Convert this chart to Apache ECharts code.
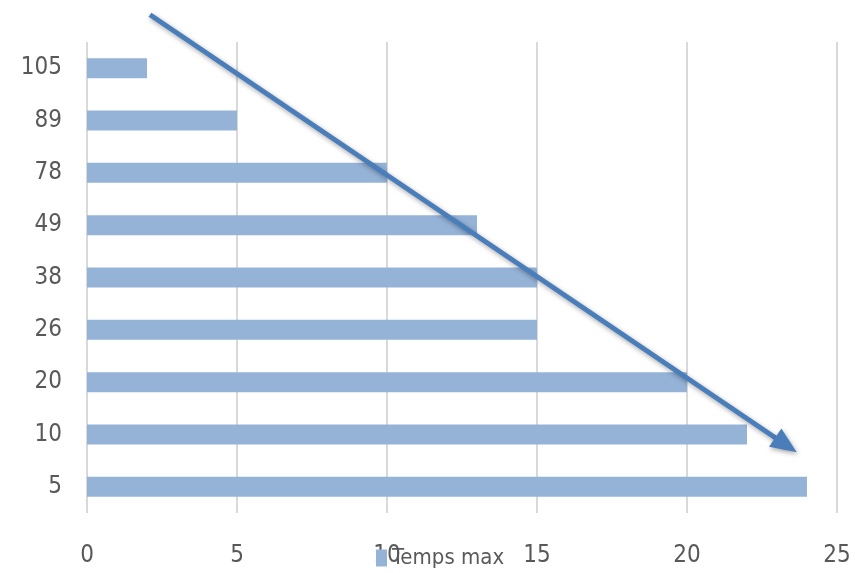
<!DOCTYPE html>
<html><head><meta charset="utf-8">
<script src="https://cdn.jsdelivr.net/npm/echarts@6/dist/echarts.min.js"></script>
<style>html,body{margin:0;padding:0;background:#fff}#c{width:855px;height:573px}</style>
</head><body><div id="c"></div>
<script>
const categories = ['5','10','20','26','38','49','78','89','105'];
const tempsMax = [24,22,20,15,15,13,10,5,2];
const xTicks = [0,5,10,15,20,25];
// trend arrow endpoints in data units: [x value, category position]
const arrowStart = [2.1, 9.02];
const arrowEnd = [23.3, 0.8];

const font = '"Liberation Sans Narrow","DejaVu Sans Condensed","Open Sans",sans-serif';
const chart = echarts.init(document.getElementById('c'));
chart.setOption({
  animation: false,
  grid: {left: 87, right: 18, top: 42, bottom: 60},
  legend: {
    data: ['Temps max'], left: 371, top: 542,
    icon: 'rect', itemWidth: 11, itemHeight: 17, itemGap: 6,
    textStyle: {fontFamily: font, fontSize: 22, color: '#595959'}
  },
  xAxis: {
    type: 'value', min: xTicks[0], max: xTicks[xTicks.length-1], interval: 5,
    axisLine: {show: false}, axisTick: {show: false},
    splitLine: {lineStyle: {color: '#d9d9d9', width: 2}},
    axisLabel: {fontFamily: font, fontSize: 24, color: '#595959', margin: 31}
  },
  yAxis: [{
    type: 'category', data: categories,
    axisLine: {show: false}, axisTick: {show: false},
    axisLabel: {fontFamily: font, fontSize: 24, color: '#595959', margin: 25}
  }, {
    type: 'value', min: -0.5, max: 8.5, show: false
  }],
  series: [{
    name: 'Temps max', type: 'bar', data: tempsMax,
    barWidth: 20, itemStyle: {color: '#95b3d7'}
  }, {
    name: 'trend', type: 'line', yAxisIndex: 1, clip: false,
    data: [
      {value: arrowStart, symbol: 'none'},
      {value: arrowEnd, symbol: 'triangle', symbolSize: [22, 26], symbolRotate: -124}
    ],
    showSymbol: true, silent: true,
    itemStyle: {color: '#4a7ebb', shadowColor: 'rgba(0,0,0,0.35)', shadowBlur: 5, shadowOffsetX: 1, shadowOffsetY: 2},
    lineStyle: {color: '#4a7ebb', width: 5, shadowColor: 'rgba(0,0,0,0.35)', shadowBlur: 5, shadowOffsetX: 1, shadowOffsetY: 2}
  }]
});
</script></body></html>
